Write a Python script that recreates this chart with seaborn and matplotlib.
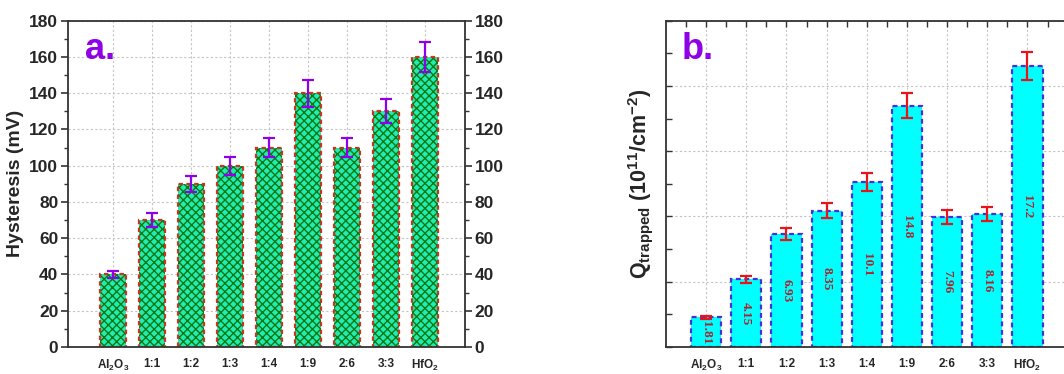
import matplotlib
matplotlib.use("Agg")
import matplotlib.pyplot as plt
import seaborn as sns
import numpy as np
import pandas as pd
from matplotlib.ticker import MultipleLocator

# ---------------- data ----------------
categories = ["Al2O3", "1:1", "1:2", "1:3", "1:4", "1:9", "2:6", "3:3", "HfO2"]
tick_labels = [r"$\mathbf{Al_2O_3}$", "1:1", "1:2", "1:3", "1:4", "1:9", "2:6", "3:3",
               r"$\mathbf{HfO_2}$"]
hysteresis = [40, 70, 90, 100, 110, 140, 110, 130, 160]
hysteresis_err = [1.8, 3.7, 4.4, 5.0, 5.3, 7.4, 5.3, 6.6, 8.1]
q_trapped = [1.81, 4.15, 6.93, 8.35, 10.1, 14.8, 7.96, 8.16, 17.2]
q_trapped_err = [0.1, 0.2, 0.36, 0.45, 0.54, 0.76, 0.42, 0.43, 0.86]

# ---------------- style ----------------
sns.set_style("ticks")
plt.rcParams["font.family"] = ["Liberation Sans", "DejaVu Sans"]
plt.rcParams["font.weight"] = "bold"
plt.rcParams["mathtext.fontset"] = "custom"
plt.rcParams["mathtext.rm"] = "Liberation Sans:bold"
plt.rcParams["mathtext.bf"] = "Liberation Sans:bold"
plt.rcParams["mathtext.it"] = "Liberation Sans:bold"
plt.rcParams["hatch.linewidth"] = 1.0

purple = "#8f00e6"
grid_kw = dict(color="#c4c4c4", linestyle=(0, (2, 2)), linewidth=0.8)

fig = plt.figure(figsize=(10.64, 3.74), dpi=100)

# ---------------- panel a ----------------
ax1 = fig.add_axes([68 / 1064, 1 - 347 / 374, (465 - 68) / 1064, (347 - 20.7) / 374])
dfa = pd.DataFrame({"cat": categories, "val": hysteresis})
sns.barplot(data=dfa, x="cat", y="val", ax=ax1, color="#22ecb4", saturation=1,
            width=0.68, edgecolor="#087a10", linewidth=0, hatch="xxxx", errorbar=None)
sns.barplot(data=dfa, x="cat", y="val", ax=ax1, color="#c8341c", saturation=1,
            width=0.68, fill=False, linewidth=1.6, errorbar=None)
for p in ax1.patches[len(categories):]:
    p.set_linestyle((0, (2, 1.5)))
    p.set_edgecolor("#c8341c")
ax1.errorbar(range(len(categories)), hysteresis, yerr=hysteresis_err, fmt="none",
             ecolor=purple, elinewidth=1.6, capsize=4, capthick=1.6, zorder=5)
ax1.set_xlim(-1.15, 9.03)
ax1.set_ylim(0, 180)
ax1.yaxis.set_major_locator(MultipleLocator(20))
ax1.yaxis.set_minor_locator(MultipleLocator(10))
ax1.set_xticks(range(len(categories)))
ax1.set_xticklabels(tick_labels, fontsize=8.5, fontweight="bold")
ax1.tick_params(axis="x", length=0, pad=8)
ax1.tick_params(axis="y", which="major", length=5, width=1.2, labelsize=12.5,
                right=True, labelright=True, color="#333333", pad=2)
ax1.tick_params(axis="y", which="minor", length=3, width=1.0, right=True, color="#333333")
for lab in ax1.get_yticklabels():
    lab.set_fontweight("bold")
for s in ax1.spines.values():
    s.set_visible(True)
    s.set_color("#333333")
    s.set_linewidth(1.3)
ax1.set_axisbelow(True)
ax1.grid(True, which="major", **grid_kw)
ax1.set_xlabel("")
ax1.set_ylabel("Hysteresis (mV)", fontsize=14, fontweight="bold", labelpad=4)
ax1.text(0.043, 0.965, "a.", transform=ax1.transAxes, color=purple, fontsize=26,
         fontweight="bold", va="top", ha="left")

# ---------------- panel b ----------------
ax2 = fig.add_axes([666 / 1064, 1 - 347 / 374, (1066 - 666) / 1064, (347 - 20.7) / 374])
dfb = pd.DataFrame({"cat": categories, "val": q_trapped})
sns.barplot(data=dfb, x="cat", y="val", ax=ax2, color="#00ffff", saturation=1,
            width=0.75, edgecolor="#4b2fd6", linewidth=1.6, errorbar=None)
for p in ax2.patches:
    p.set_linestyle((0, (2.2, 1.6)))
ax2.errorbar(range(len(categories)), q_trapped, yerr=q_trapped_err, fmt="none",
             ecolor="#e8141c", elinewidth=1.6, capsize=4, capthick=1.6, zorder=5)
for i, v in enumerate(q_trapped):
    ax2.text(i, v / 2, f"{v:g}", rotation=270, ha="center", va="center",
             color="#b3202a", family="Liberation Serif", fontweight="bold", fontsize=9.5,
             zorder=6)
ax2.set_xlim(-1.0, 8.96)
ax2.set_ylim(0, 20)
ax2.yaxis.set_major_locator(MultipleLocator(4))
ax2.yaxis.set_minor_locator(MultipleLocator(2))
ax2.set_xticks(range(len(categories)))
ax2.set_xticks(np.arange(-0.5, 9.0, 1.0), minor=True)
ax2.set_xticklabels(tick_labels, fontsize=8.5, fontweight="bold")
ax2.tick_params(axis="x", which="both", bottom=False, top=True, direction="in",
                length=4, width=1.0, color="#333333", pad=8)
ax2.tick_params(axis="y", which="both", direction="in", labelleft=False,
                length=4, width=1.0, color="#333333")
for s in ax2.spines.values():
    s.set_visible(True)
    s.set_color("#333333")
    s.set_linewidth(1.3)
ax2.set_axisbelow(True)
ax2.grid(True, which="major", **grid_kw)
ax2.set_xlabel("")
ax2.set_ylabel(r"$\mathbf{Q_{trapped}}$ $\mathbf{(10^{11}/cm^{-2})}$", fontsize=15.5,
               labelpad=8)
ax2.text(0.04, 0.965, "b.", transform=ax2.transAxes, color=purple, fontsize=26,
         fontweight="bold", va="top", ha="left")

fig.savefig("out.png", dpi=100)
